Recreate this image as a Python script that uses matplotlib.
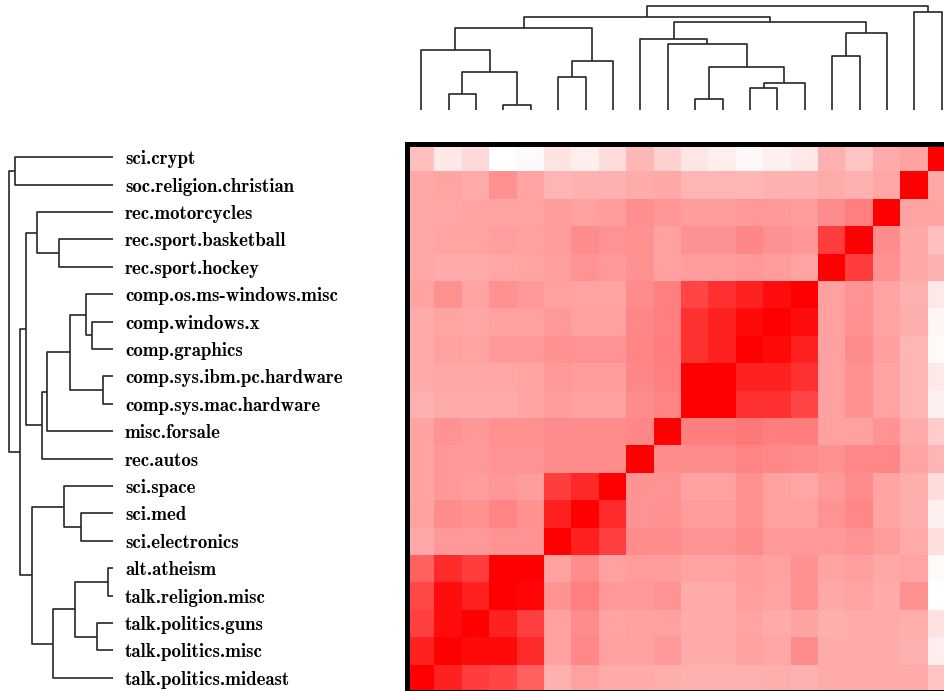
import numpy as np
import matplotlib
matplotlib.use("Agg")
import matplotlib.pyplot as plt
from matplotlib.colors import LinearSegmentedColormap

# newsgroups, in dendrogram (row) order, top to bottom
groups = ["sci.crypt", "soc.religion.christian", "rec.motorcycles",
          "rec.sport.basketball", "rec.sport.hockey", "comp.os.ms-windows.misc",
          "comp.windows.x", "comp.graphics", "comp.sys.ibm.pc.hardware",
          "comp.sys.mac.hardware", "misc.forsale", "rec.autos", "sci.space",
          "sci.med", "sci.electronics", "alt.atheism", "talk.religion.misc",
          "talk.politics.guns", "talk.politics.misc", "talk.politics.mideast"]

# linkage: (child a, child b, height); ids >= 20 are earlier merges
linkage = [
    (15, 16, 0.048),
    (8, 9, 0.103),
    (17, 18, 0.153),
    (6, 7, 0.208),
    (5, 23, 0.262),
    (13, 14, 0.314),
    (20, 22, 0.367),
    (24, 21, 0.415),
    (12, 25, 0.470),
    (3, 4, 0.521),
    (26, 19, 0.575),
    (27, 10, 0.633),
    (31, 11, 0.681),
    (2, 29, 0.735),
    (28, 30, 0.783),
    (33, 32, 0.841),
    (35, 34, 0.895),
    (0, 1, 0.942),
    (37, 36, 1.000),
]

# similarity as displayed: rows top->bottom, columns left->right
similarity = [
    [0.25, 0.09, 0.15, 0.00, 0.02, 0.11, 0.07, 0.14, 0.28, 0.18, 0.10, 0.07, 0.03, 0.06, 0.09, 0.31, 0.23, 0.33, 0.36, 1.00],
    [0.34, 0.36, 0.33, 0.43, 0.36, 0.29, 0.31, 0.31, 0.33, 0.34, 0.29, 0.29, 0.29, 0.31, 0.31, 0.33, 0.31, 0.35, 1.00, 0.34],
    [0.34, 0.35, 0.36, 0.36, 0.36, 0.39, 0.37, 0.39, 0.44, 0.41, 0.39, 0.39, 0.40, 0.40, 0.39, 0.45, 0.50, 1.00, 0.36, 0.36],
    [0.34, 0.36, 0.36, 0.38, 0.37, 0.39, 0.45, 0.42, 0.43, 0.37, 0.43, 0.43, 0.47, 0.43, 0.41, 0.76, 1.00, 0.45, 0.34, 0.25],
    [0.34, 0.33, 0.33, 0.35, 0.36, 0.38, 0.42, 0.40, 0.43, 0.37, 0.39, 0.39, 0.40, 0.39, 0.36, 1.00, 0.76, 0.43, 0.34, 0.31],
    [0.36, 0.43, 0.36, 0.43, 0.40, 0.37, 0.36, 0.36, 0.45, 0.50, 0.73, 0.81, 0.87, 0.95, 1.00, 0.37, 0.42, 0.36, 0.31, 0.09],
    [0.33, 0.36, 0.35, 0.37, 0.37, 0.40, 0.37, 0.37, 0.47, 0.50, 0.81, 0.87, 0.96, 1.00, 0.95, 0.37, 0.43, 0.36, 0.32, 0.04],
    [0.33, 0.37, 0.36, 0.40, 0.40, 0.43, 0.42, 0.42, 0.48, 0.51, 0.81, 0.87, 1.00, 0.96, 0.87, 0.37, 0.45, 0.38, 0.29, 0.02],
    [0.33, 0.34, 0.34, 0.35, 0.36, 0.40, 0.39, 0.39, 0.47, 0.50, 1.00, 1.00, 0.87, 0.87, 0.81, 0.37, 0.43, 0.36, 0.29, 0.09],
    [0.31, 0.33, 0.33, 0.33, 0.36, 0.39, 0.37, 0.37, 0.45, 0.48, 1.00, 1.00, 0.81, 0.81, 0.73, 0.37, 0.43, 0.36, 0.29, 0.06],
    [0.36, 0.42, 0.40, 0.43, 0.43, 0.45, 0.45, 0.45, 0.47, 1.00, 0.50, 0.50, 0.53, 0.50, 0.51, 0.37, 0.37, 0.42, 0.33, 0.20],
    [0.36, 0.40, 0.40, 0.42, 0.42, 0.45, 0.45, 0.45, 1.00, 0.45, 0.45, 0.45, 0.48, 0.47, 0.45, 0.43, 0.47, 0.47, 0.36, 0.29],
    [0.36, 0.40, 0.39, 0.41, 0.39, 0.76, 0.84, 1.00, 0.42, 0.42, 0.37, 0.37, 0.43, 0.37, 0.35, 0.40, 0.45, 0.36, 0.32, 0.14],
    [0.37, 0.45, 0.43, 0.48, 0.43, 0.87, 1.00, 0.83, 0.42, 0.43, 0.39, 0.39, 0.43, 0.37, 0.37, 0.42, 0.47, 0.36, 0.32, 0.06],
    [0.34, 0.40, 0.40, 0.42, 0.42, 1.00, 0.87, 0.75, 0.45, 0.45, 0.42, 0.42, 0.45, 0.40, 0.40, 0.40, 0.42, 0.39, 0.33, 0.13],
    [0.62, 0.83, 0.76, 1.00, 1.00, 0.37, 0.45, 0.37, 0.39, 0.39, 0.36, 0.36, 0.39, 0.37, 0.43, 0.36, 0.38, 0.34, 0.36, 0.02],
    [0.72, 0.95, 0.87, 1.00, 0.98, 0.42, 0.50, 0.40, 0.40, 0.42, 0.33, 0.33, 0.38, 0.36, 0.43, 0.34, 0.36, 0.33, 0.43, 0.00],
    [0.75, 0.95, 1.00, 0.87, 0.75, 0.37, 0.45, 0.36, 0.37, 0.37, 0.33, 0.33, 0.36, 0.33, 0.36, 0.32, 0.33, 0.33, 0.32, 0.12],
    [0.87, 1.00, 0.96, 0.96, 0.83, 0.37, 0.47, 0.37, 0.37, 0.40, 0.33, 0.33, 0.37, 0.35, 0.45, 0.33, 0.33, 0.33, 0.31, 0.07],
    [1.00, 0.87, 0.76, 0.73, 0.62, 0.31, 0.37, 0.33, 0.33, 0.32, 0.31, 0.31, 0.31, 0.32, 0.31, 0.33, 0.33, 0.33, 0.33, 0.23],
]

n = len(groups)
W, H = 945, 691
fig = plt.figure(figsize=(W / 100, H / 100), dpi=100)

# pixel layout
hm_left, hm_top, hm_size = 407.5, 143.5, 548.0
dendro_len = 110.0
root_px = 104.3


def tree_coords(leaf_pos):
    pos = list(leaf_pos)
    hgt = [0.0] * n
    segs = []
    for a, b, h in linkage:
        segs.append(((pos[a], pos[a], pos[b], pos[b]), (hgt[a], h, h, hgt[b])))
        pos.append((pos[a] + pos[b]) / 2)
        hgt.append(h)
    return segs


hmax = dendro_len / root_px
line_kw = dict(color="0.15", lw=1.2, solid_capstyle="butt")

# top dendrogram (columns are in reverse row order)
ax_top = fig.add_axes([hm_left / W, (H - dendro_len) / H, hm_size / W, dendro_len / H])
for xs, ys in tree_coords([n - 1 - i + 0.5 for i in range(n)]):
    ax_top.plot(xs, ys, **line_kw)
ax_top.set_xlim(0, n)
ax_top.set_ylim(0, hmax)
ax_top.axis("off")

# left dendrogram
ax_left = fig.add_axes([(113.3 - dendro_len) / W, (H - hm_top - hm_size) / H,
                        dendro_len / W, hm_size / H])
for xs, ys in tree_coords([i + 0.5 for i in range(n)]):
    ax_left.plot(ys, xs, **line_kw)
ax_left.set_xlim(hmax, 0)
ax_left.set_ylim(n, 0)
for s in ax_left.spines.values():
    s.set_visible(False)
ax_left.set_xticks([])
ax_left.yaxis.tick_right()
ax_left.set_yticks(np.arange(n) + 0.5, groups)
ax_left.tick_params(axis="y", length=0, pad=8.5)
for lab in ax_left.get_yticklabels():
    lab.set_fontfamily(["cmb10", "DejaVu Serif"])
    lab.set_fontsize(13.6)

# heatmap
cmap = LinearSegmentedColormap.from_list("white_red", ["#ffffff", "#ff0000"])
ax_hm = fig.add_axes([hm_left / W, (H - hm_top - hm_size) / H, hm_size / W, hm_size / H])
ax_hm.imshow(np.array(similarity), cmap=cmap, vmin=0, vmax=1,
             aspect="auto", interpolation="nearest", extent=(0, n, n, 0))
ax_hm.set_xticks([])
ax_hm.set_yticks([])
for s in ax_hm.spines.values():
    s.set_linewidth(3.6)
    s.set_color("black")

fig.savefig("out.png", dpi=100)
